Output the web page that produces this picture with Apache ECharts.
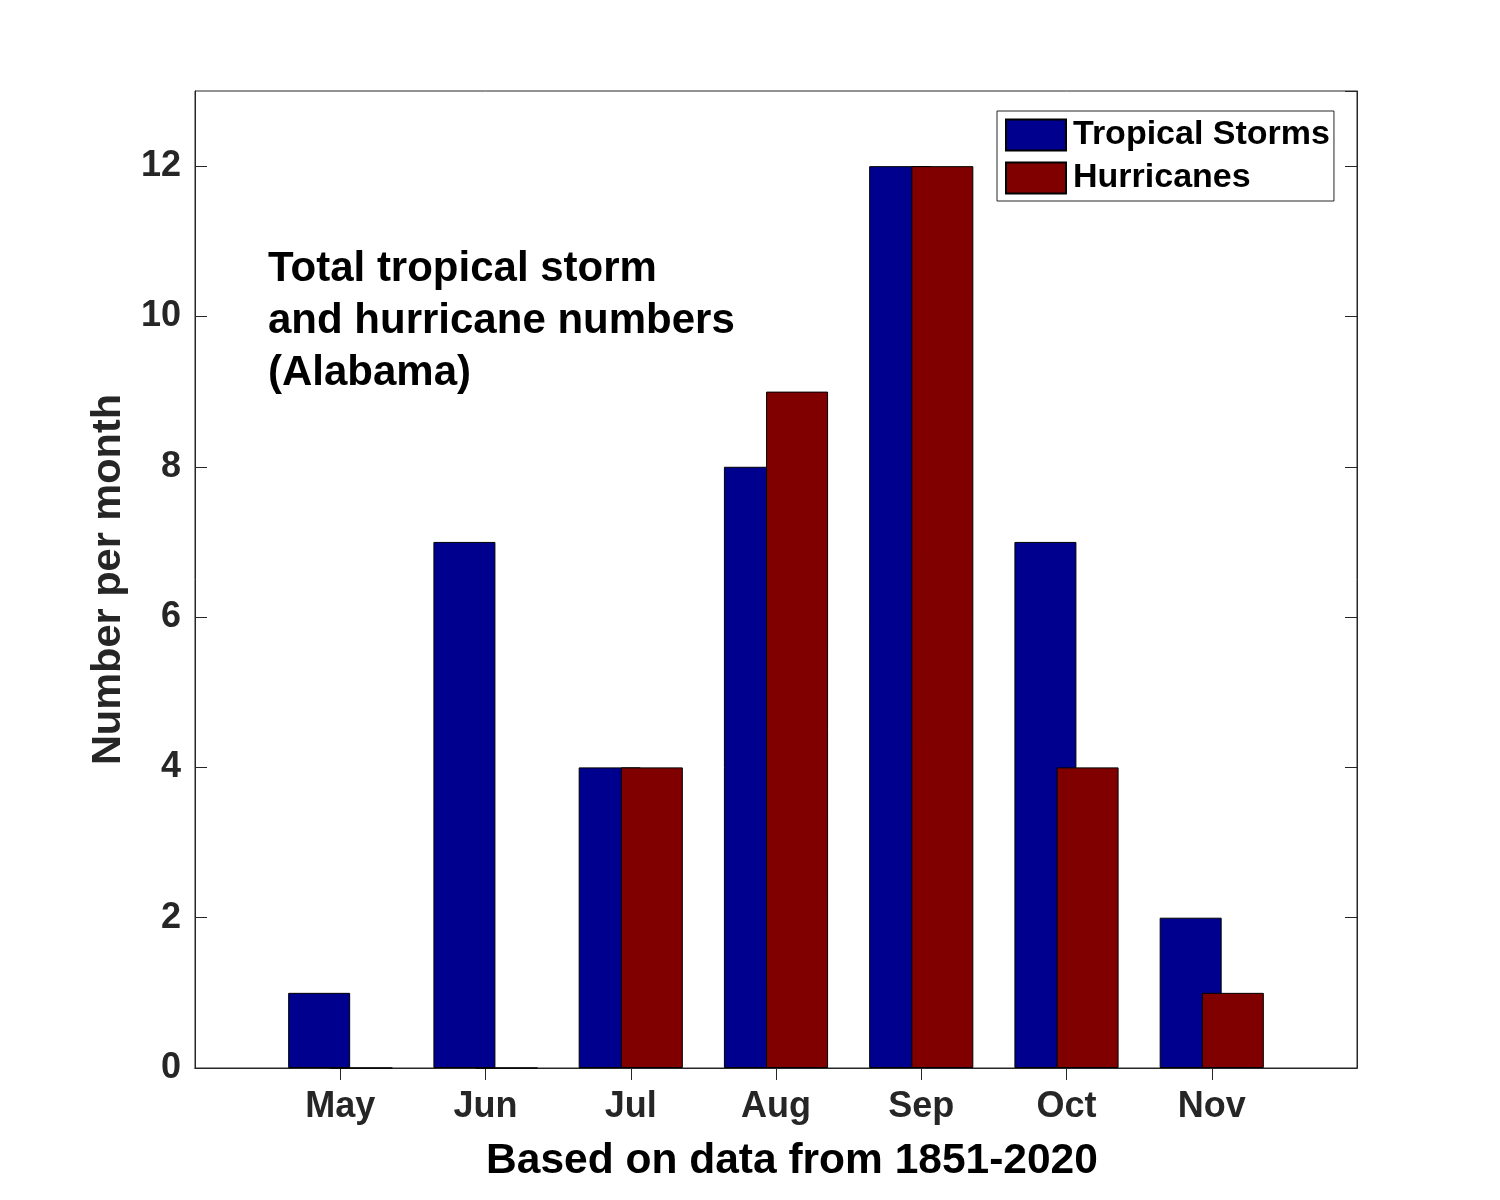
<!DOCTYPE html>
<html>
<head>
<meta charset="utf-8">
<script src="https://cdn.jsdelivr.net/npm/echarts@6/dist/echarts.min.js"></script>
<style>
  html, body { margin: 0; padding: 0; background: #fff; }
  #chart { width: 1500px; height: 1200px; }
</style>
</head>
<body>
<div id="chart"></div>
<script>
// months, padded with an empty slot at each end like the MATLAB x range 0..8
const months = ['', 'May', 'Jun', 'Jul', 'Aug', 'Sep', 'Oct', 'Nov', '']
const tropicalStorms = ['-', 1, 7, 4, 8, 12, 7, 2, '-']
const hurricanes = ['-', 0, 0, 4, 9, 12, 4, 1, '-']

const font = 'Liberation Sans, Arial, Helvetica, sans-serif'
const ink = '#262626'

const chart = echarts.init(document.getElementById('chart'))

const tickStyle = {
  show: true,
  inside: true,
  length: 12,
  lineStyle: { color: ink, width: 1 }
}
const hideEnds = (i, v) => v !== ''

const option = {
  animation: false,
  backgroundColor: '#fff',
  title: {
    text: 'Total tropical storm\nand hurricane numbers\n(Alabama)',
    left: 268,
    top: 243,
    padding: 0,
    textStyle: {
      fontFamily: font,
      fontWeight: 'bold',
      fontSize: 42,
      lineHeight: 52,
      color: '#000'
    }
  },
  legend: {
    orient: 'vertical',
    left: 997,
    top: 111,
    padding: [7, 4, 6, 8],
    icon: 'rect',
    itemWidth: 60,
    itemHeight: 31,
    itemGap: 9,
    borderColor: ink,
    borderWidth: 1,
    backgroundColor: '#fff',
    textStyle: {
      fontFamily: font,
      fontWeight: 'bold',
      fontSize: 34,
      color: '#000',
      padding: [0, 0, 0, 2]
    },
    data: ['Tropical Storms', 'Hurricanes']
  },
  grid: {
    left: 195,
    right: 143,
    top: 91,
    bottom: 132,
    outerBoundsMode: 'none',
    show: true,
    borderColor: ink,
    borderWidth: 1
  },
  xAxis: [
    {
      type: 'category',
      data: months,
      boundaryGap: false,
      axisLine: { show: true, lineStyle: { color: ink } },
      axisTick: { ...tickStyle, interval: hideEnds },
      axisLabel: {
        margin: 21,
        fontFamily: font,
        fontWeight: 'bold',
        fontSize: 36,
        color: ink,
        interval: 0
      },
      name: 'Based on data from 1851-2020',
      nameLocation: 'middle',
      nameGap: 72,
      nameTextStyle: {
        fontFamily: font,
        fontWeight: 'bold',
        fontSize: 42.5,
        color: '#000',
        padding: [0, 0, 0, 32]
      }
    },
    {
      type: 'category',
      data: months,
      boundaryGap: false,
      position: 'top',
      axisLine: { show: true, lineStyle: { color: ink } },
      axisTick: { ...tickStyle, interval: hideEnds },
      axisLabel: { show: false }
    }
  ],
  yAxis: [
    {
      type: 'value',
      min: 0,
      max: 13,
      interval: 2,
      splitLine: { show: false },
      axisLine: { show: true, lineStyle: { color: ink } },
      axisTick: tickStyle,
      axisLabel: {
        margin: 14,
        fontFamily: font,
        fontWeight: 'bold',
        fontSize: 36,
        color: ink,
        showMaxLabel: false
      },
      name: 'Number per month',
      nameLocation: 'middle',
      nameRotate: 90,
      nameGap: 57,
      nameTextStyle: {
        fontFamily: font,
        fontWeight: 'bold',
        fontSize: 41.5,
        color: ink
      }
    },
    {
      type: 'value',
      min: 0,
      max: 13,
      interval: 2,
      position: 'right',
      splitLine: { show: false },
      axisLine: { show: true, lineStyle: { color: ink } },
      axisTick: tickStyle,
      axisLabel: { show: false }
    }
  ],
  series: [
    {
      name: 'Tropical Storms',
      type: 'bar',
      data: tropicalStorms,
      barWidth: 62,
      barGap: '-32%',
      itemStyle: { color: '#00008f', borderColor: '#000', borderWidth: 1 }
    },
    {
      name: 'Hurricanes',
      type: 'bar',
      data: hurricanes,
      barWidth: 62,
      barGap: '-32%',
      itemStyle: { color: '#800000', borderColor: '#000', borderWidth: 1 }
    }
  ]
}

chart.setOption(option)
</script>
</body>
</html>
